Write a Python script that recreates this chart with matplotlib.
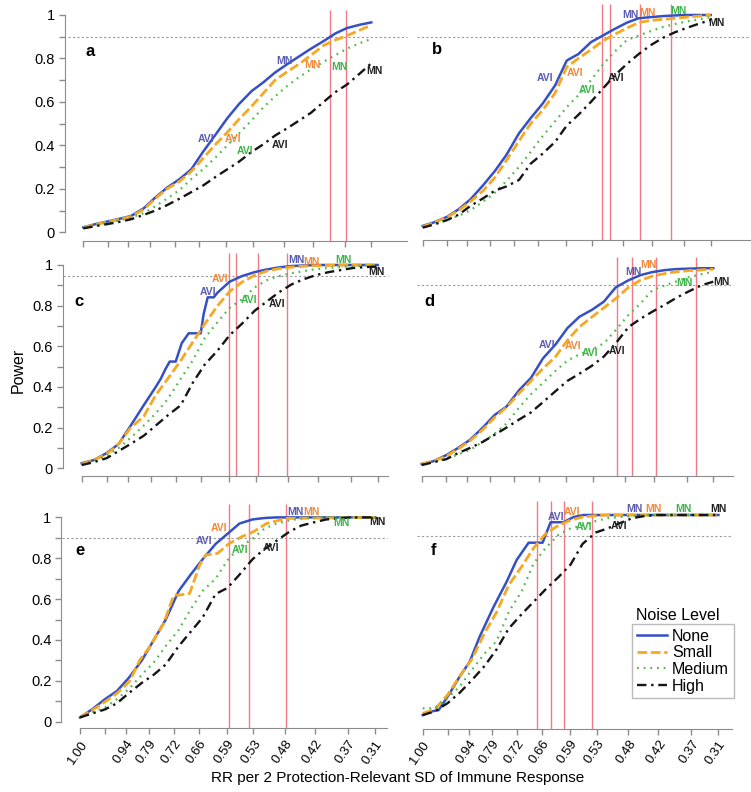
import numpy as np
import matplotlib
matplotlib.use('Agg')
import matplotlib.pyplot as plt
from matplotlib.ticker import FixedLocator

plt.rcParams['font.family'] = ['Liberation Sans', 'DejaVu Sans']

W, H = 751, 792

# effect-size positions along the axis (1.00 at 0)
GRID = [0, 12, 25, 37, 49, 62, 74, 86, 99, 111, 123, 136, 148, 160, 173, 185,
        197, 210, 222, 234, 247, 259, 271, 284, 296]
TICK_POS = [0, 25, 46, 69, 94, 119, 147, 174, 206, 236, 269, 296]
TICK_LAB = ['1.00', '', '0.94', '0.79', '0.72', '0.66', '0.59', '0.53', '0.48',
            '0.42', '0.37', '0.31']
LEVELS = ['None', 'Small', 'Medium', 'High']

# panel a
A_NONE = [0.023, 0.037, 0.05, 0.062, 0.075, 0.11, 0.16, 0.205, 0.245, 0.29, 0.37, 0.45, 0.525,
          0.59, 0.65, 0.69, 0.735, 0.775, 0.81, 0.845, 0.88, 0.915, 0.94, 0.955, 0.966]
A_SMALL = [0.023, 0.035, 0.048, 0.06, 0.072, 0.105, 0.155, 0.2, 0.235, 0.28, 0.34, 0.405, 0.46,
           0.52, 0.58, 0.64, 0.70, 0.74, 0.775, 0.815, 0.86, 0.885, 0.905, 0.93, 0.954]
A_MEDIUM = [0.023, 0.033, 0.045, 0.055, 0.068, 0.088, 0.12, 0.155, 0.195, 0.245, 0.29, 0.345, 0.40,
            0.455, 0.515, 0.575, 0.625, 0.675, 0.715, 0.75, 0.785, 0.815, 0.845, 0.87, 0.89]
A_HIGH = [0.018, 0.028, 0.038, 0.048, 0.06, 0.08, 0.1, 0.125, 0.155, 0.185, 0.215, 0.255, 0.29,
          0.325, 0.37, 0.405, 0.445, 0.48, 0.515, 0.55, 0.6, 0.645, 0.68, 0.73, 0.778]
A_CROSS = [254, 270]
A_AVI = [(126, .428), (154, .428), (166, .374), (202, .40)]
A_MN = [(207, .788), (236, .77), (263, .762), (299, .744)]

# panel b
B_NONE = [0.028, 0.045, 0.07, 0.105, 0.15, 0.215, 0.28, 0.355, 0.455, 0.525, 0.59, 0.675, 0.79,
          0.82, 0.875, 0.905, 0.935, 0.965, 0.985, 0.99, 0.995, 0.998, 1.0, 1.0, 1.0]
B_SMALL = [0.025, 0.043, 0.068, 0.1, 0.14, 0.19, 0.25, 0.33, 0.42, 0.5, 0.56, 0.64, 0.76,
           0.80, 0.84, 0.88, 0.91, 0.94, 0.965, 0.975, 0.98, 0.985, 0.99, 0.995, 1.0]
B_MEDIUM = [0.025, 0.038, 0.055, 0.075, 0.1, 0.14, 0.18, 0.235, 0.3, 0.37, 0.44, 0.51, 0.575,
            0.63, 0.70, 0.77, 0.83, 0.885, 0.905, 0.925, 0.945, 0.958, 0.97, 0.98, 0.99]
B_HIGH = [0.02, 0.035, 0.055, 0.08, 0.12, 0.155, 0.19, 0.21, 0.24, 0.315, 0.36, 0.415, 0.49,
          0.54, 0.6, 0.66, 0.72, 0.775, 0.82, 0.86, 0.895, 0.92, 0.94, 0.96, 0.977]
B_CROSS = [184, 192, 223, 255]
B_AVI = [(126, .708), (157, .734), (169, .654), (199, .708)]
B_MN = [(214, 1.0), (231, 1.008), (263, 1.02), (302, .962)]

# panel c
C_NONE_X = [0, 12, 25, 37, 49, 62, 74, 79, 84, 88, 94, 100, 107, 119, 122, 126, 132, 136, 148,
            160, 173, 185, 197, 210, 234, 296]
C_NONE = [0.025, 0.04, 0.075, 0.12, 0.21, 0.31, 0.40, 0.44, 0.49, 0.525, 0.525, 0.615, 0.664,
          0.664, 0.76, 0.841, 0.841, 0.865, 0.918, 0.945, 0.965, 0.978, 0.988, 0.995, 1.0, 1.0]
C_SMALL = [0.021, 0.04, 0.07, 0.12, 0.2, 0.255, 0.36, 0.44, 0.53, 0.62, 0.71, 0.80, 0.87,
           0.915, 0.95, 0.97, 0.982, 0.99, 0.994, 0.997, 0.998, 1.0, 1.0, 1.0, 1.0]
C_MEDIUM = [0.021, 0.038, 0.062, 0.1, 0.15, 0.21, 0.27, 0.34, 0.44, 0.53, 0.64, 0.72, 0.79,
            0.83, 0.89, 0.925, 0.945, 0.96, 0.97, 0.98, 0.985, 0.99, 0.995, 0.998, 1.0]
C_HIGH = [0.016, 0.03, 0.05, 0.085, 0.12, 0.16, 0.21, 0.26, 0.31, 0.42, 0.51, 0.58, 0.655,
          0.71, 0.775, 0.82, 0.865, 0.905, 0.93, 0.95, 0.965, 0.975, 0.985, 0.99, 0.992]
C_CROSS = [147, 154, 176, 205]
C_AVI = [(126, .866), (138, .93), (167, .828), (195, .808)]
C_MN = [(215, 1.025), (230, 1.016), (262, 1.025), (295, .965)]

# panel d
D_NONE = [0.021, 0.035, 0.065, 0.1, 0.14, 0.2, 0.262, 0.303, 0.385, 0.445, 0.54, 0.61, 0.69,
          0.745, 0.78, 0.82, 0.89, 0.925, 0.95, 0.965, 0.975, 0.98, 0.982, 0.984, 0.984]
D_SMALL = [0.021, 0.035, 0.06, 0.095, 0.135, 0.19, 0.25, 0.3, 0.37, 0.43, 0.49, 0.55, 0.63,
           0.695, 0.745, 0.79, 0.835, 0.89, 0.925, 0.945, 0.958, 0.967, 0.972, 0.976, 0.979]
D_MEDIUM = [0.021, 0.03, 0.048, 0.068, 0.09, 0.13, 0.17, 0.22, 0.3, 0.365, 0.42, 0.48, 0.53,
            0.56, 0.585, 0.615, 0.68, 0.755, 0.81, 0.875, 0.9, 0.92, 0.94, 0.955, 0.967]
D_HIGH = [0.016, 0.03, 0.045, 0.075, 0.1, 0.13, 0.165, 0.2, 0.24, 0.275, 0.325, 0.38, 0.43,
          0.465, 0.505, 0.55, 0.615, 0.695, 0.735, 0.77, 0.805, 0.84, 0.87, 0.9, 0.918]
D_CROSS = [198, 214, 238, 278]
D_AVI = [(127, .607), (154, .60), (171, .569), (198, .579)]
D_MN = [(215, .964), (230, 1.0), (267, .91), (304, .918)]

# panel e
E_NONE = [0.021, 0.06, 0.11, 0.15, 0.215, 0.3, 0.4, 0.5, 0.64, 0.72, 0.795, 0.87, 0.92,
          0.97, 0.99, 0.997, 1.0, 1.0, 1.0, 1.0, 1.0, 1.0, 1.0, 1.0, 1.0]
E_SMALL_X = [0, 20, 37, 44, 50, 60, 70, 84, 94, 100, 110, 120, 126, 138, 149, 162, 174, 187, 207, 296]
E_SMALL = [0.021, 0.08, 0.139, 0.17, 0.2, 0.302, 0.367, 0.481, 0.62, 0.62, 0.628, 0.767, 0.816,
           0.824, 0.87, 0.905, 0.93, 0.97, 0.995, 1.0]
E_MEDIUM = [0.021, 0.045, 0.07, 0.11, 0.16, 0.23, 0.29, 0.37, 0.45, 0.55, 0.64, 0.7, 0.79,
            0.855, 0.895, 0.945, 0.97, 0.985, 0.995, 1.0, 1.0, 1.0, 1.0, 1.0, 1.0]
E_HIGH = [0.021, 0.04, 0.06, 0.09, 0.14, 0.19, 0.23, 0.28, 0.37, 0.44, 0.51, 0.625, 0.655,
          0.72, 0.795, 0.845, 0.885, 0.93, 0.96, 0.975, 0.99, 0.995, 1.0, 1.0, 1.0]
E_CROSS = [149, 170, 207]
E_AVI = [(124, .884), (139, .946), (160, .84), (192, .848)]
E_MN = [(216, 1.024), (232, 1.024), (262, .971), (298, .979)]

# panel f
F_NONE_X = [0, 7, 16, 27, 37, 47, 57, 71, 84, 94, 106, 120, 128, 141, 151, 161, 296]
F_NONE = [0.032, 0.048, 0.056, 0.137, 0.218, 0.29, 0.411, 0.556, 0.677, 0.782, 0.866, 0.866,
          0.965, 0.965, 0.99, 1.0, 1.0]
F_SMALL = [0.04, 0.06, 0.13, 0.22, 0.3, 0.43, 0.53, 0.66, 0.75, 0.84, 0.91, 0.95, 0.975,
           0.99, 0.997, 1.0, 1.0, 1.0, 1.0, 1.0, 1.0, 1.0, 1.0, 1.0, 1.0]
F_MEDIUM = [0.065, 0.065, 0.115, 0.17, 0.25, 0.33, 0.39, 0.53, 0.63, 0.765, 0.84, 0.905, 0.935,
            0.95, 0.97, 0.985, 0.99, 0.995, 1.0, 1.0, 1.0, 1.0, 1.0, 1.0, 1.0]
F_HIGH = [0.032, 0.05, 0.09, 0.14, 0.2, 0.27, 0.35, 0.45, 0.52, 0.58, 0.64, 0.70, 0.76,
          0.86, 0.915, 0.935, 0.96, 0.985, 0.995, 1.0, 1.0, 1.0, 1.0, 1.0, 1.0]
F_CROSS = [114, 128, 141, 169]
F_AVI = [(133, .989), (149, 1.016), (161, .944), (196, .948)]
F_MN = [(212, 1.027), (231, 1.027), (261, 1.027), (296, 1.027)]

LINE_COL = {'None': '#3550C4', 'Small': '#F7A823', 'Medium': '#52B848', 'High': '#151515'}
TEXT_COL = {'None': '#5A5CB0', 'Small': '#F2883A', 'Medium': '#3DB54A', 'High': '#222222'}
STYLE = {'None': dict(ls='-', lw=1.8),
         'Small': dict(ls=(0, (3.5, 1.3)), lw=2.0),
         'Medium': dict(ls=(0, (0.8, 2.2)), lw=1.6),
         'High': dict(ls=(0, (4, 2, 1, 2)), lw=1.7)}

# (letter, series, crosses, AVI, MN, threshold, layout, letter pos)
# layout: px of x=0, px per unit, px of y=0, px per unit y, red top, x-axis y, spine end, dotted start
panels = [
    ('a', {'None': (GRID, A_NONE), 'Small': (GRID, A_SMALL), 'Medium': (GRID, A_MEDIUM), 'High': (GRID, A_HIGH)},
     A_CROSS, A_AVI, A_MN, 0.9, (83.3, 0.973, 232.3, 217.3, 1.023, -0.04, 333, -16), (2, 0.83)),
    ('b', {'None': (GRID, B_NONE), 'Small': (GRID, B_SMALL), 'Medium': (GRID, B_MEDIUM), 'High': (GRID, B_HIGH)},
     B_CROSS, B_AVI, B_MN, 0.9, (422.7, 0.973, 232.0, 217.0, 1.05, -0.037, 337, -6), (10, 0.84)),
    ('c', {'None': (C_NONE_X, C_NONE), 'Small': (GRID, C_SMALL), 'Medium': (GRID, C_MEDIUM), 'High': (GRID, C_HIGH)},
     C_CROSS, C_AVI, C_MN, 0.946, (81.7, 1.0, 468.3, 203.3, 1.06, -0.04, 306, -19), (-7, 0.82)),
    ('d', {'None': (GRID, D_NONE), 'Small': (GRID, D_SMALL), 'Medium': (GRID, D_MEDIUM), 'High': (GRID, D_HIGH)},
     D_CROSS, D_AVI, D_MN, 0.9, (421.7, 0.985, 468.3, 203.3, 1.04, -0.04, 316, -5), (3, 0.82)),
    ('e', {'None': (GRID, E_NONE), 'Small': (E_SMALL_X, E_SMALL), 'Medium': (GRID, E_MEDIUM), 'High': (GRID, E_HIGH)},
     E_CROSS, E_AVI, E_MN, 0.9, (80.0, 0.997, 721.7, 204.3, 1.066, -0.033, 308, -18), (-5, 0.837)),
    ('f', {'None': (F_NONE_X, F_NONE), 'Small': (GRID, F_SMALL), 'Medium': (GRID, F_MEDIUM), 'High': (GRID, F_HIGH)},
     F_CROSS, F_AVI, F_MN, 0.9, (422.7, 0.999, 721.7, 206.7, 1.07, -0.033, 310, -6), (8, 0.83)),
]

fig = plt.figure(figsize=(W / 100, H / 100), dpi=100)
XLIM = (-24, 345)
YLIM = (-0.08, 1.1)
GRAY = '#8C8C8C'

handles = []
for i, (letter, series, cross, avi, mn, thr, lay, lpos) in enumerate(panels):
    px0, sx, py0, sy, rtop, xax, send, dstart = lay
    left = (px0 + XLIM[0] * sx) / W
    width = (XLIM[1] - XLIM[0]) * sx / W
    bottom = 1 - (py0 - YLIM[0] * sy) / H
    height = (YLIM[1] - YLIM[0]) * sy / H
    ax = fig.add_axes([left, bottom, width, height])
    ax.set_xlim(XLIM)
    ax.set_ylim(YLIM)
    ax.patch.set_alpha(0)

    ax.plot([dstart, send], [thr, thr], color='#9A9A9A', lw=0.8, ls=(0, (2, 2)), zorder=1)
    ax.vlines(cross, xax, rtop, color='#F07A86', lw=1.0, zorder=2, clip_on=False)

    hs = []
    for lev in LEVELS:
        xs, ys = series[lev]
        h, = ax.plot(xs, ys, color=LINE_COL[lev], zorder=3, **STYLE[lev])
        hs.append(h)
    if i == 5:
        handles = hs

    for lev, (tx, ty) in zip(LEVELS, avi):
        ax.text(tx, ty, 'AVI', color=TEXT_COL[lev], fontsize=7.5, fontweight='bold',
                ha='center', va='center', zorder=4)
    for lev, (tx, ty) in zip(LEVELS, mn):
        ax.text(tx, ty, 'MN', color=TEXT_COL[lev], fontsize=7.5, fontweight='bold',
                ha='center', va='center', zorder=4)

    ax.text(lpos[0], lpos[1], letter, fontsize=12, fontweight='bold', ha='left', va='center')

    for s in ['top', 'right']:
        ax.spines[s].set_visible(False)
    ax.spines['bottom'].set_position(('data', xax))
    ax.spines['bottom'].set_bounds(0, send)
    ax.spines['bottom'].set_color(GRAY)
    ax.set_xticks(TICK_POS)
    if i >= 4:
        ax.set_xticklabels(TICK_LAB, rotation=55, ha='right', rotation_mode='anchor', fontsize=9.5)
    else:
        ax.set_xticklabels([])
    ax.tick_params(axis='x', direction='out', length=4, color=GRAY, width=1, pad=3)

    if i % 2 == 0:
        ax.spines['left'].set_position(('data', -19))
        ax.spines['left'].set_bounds(0, 1)
        ax.spines['left'].set_color(GRAY)
        ax.set_yticks([0, 0.2, 0.4, 0.6, 0.8, 1.0])
        ax.set_yticklabels(['0', '0.2', '0.4', '0.6', '0.8', '1'], fontsize=10.5)
        ax.yaxis.set_minor_locator(FixedLocator([0.1, 0.3, 0.5, 0.7, 0.9]))
        ax.tick_params(axis='y', which='both', direction='out', length=4, color=GRAY, width=1, pad=3)
    else:
        ax.spines['left'].set_visible(False)
        ax.set_yticks([])

fig.text(18 / W, 1 - 370 / H, 'Power', rotation=90, fontsize=11.5, ha='center', va='center')
fig.text(398 / W, 1 - 778 / H, 'RR per 2 Protection-Relevant SD of Immune Response',
         fontsize=11, ha='center', va='center')

fig.text(636 / W, 1 - 616 / H, 'Noise Level', fontsize=11.5, ha='left', va='center')
leg = fig.legend(handles, LEVELS, loc='upper left', bbox_to_anchor=(632 / W, 1 - 624 / H),
                 borderaxespad=0, fontsize=11.5, frameon=True, fancybox=False,
                 handlelength=1.9, handletextpad=0.3, labelspacing=0.1,
                 borderpad=0.3)
leg.get_frame().set_edgecolor('#AAAAAA')
leg.get_frame().set_linewidth(1.0)

fig.savefig('out.png', dpi=100)
